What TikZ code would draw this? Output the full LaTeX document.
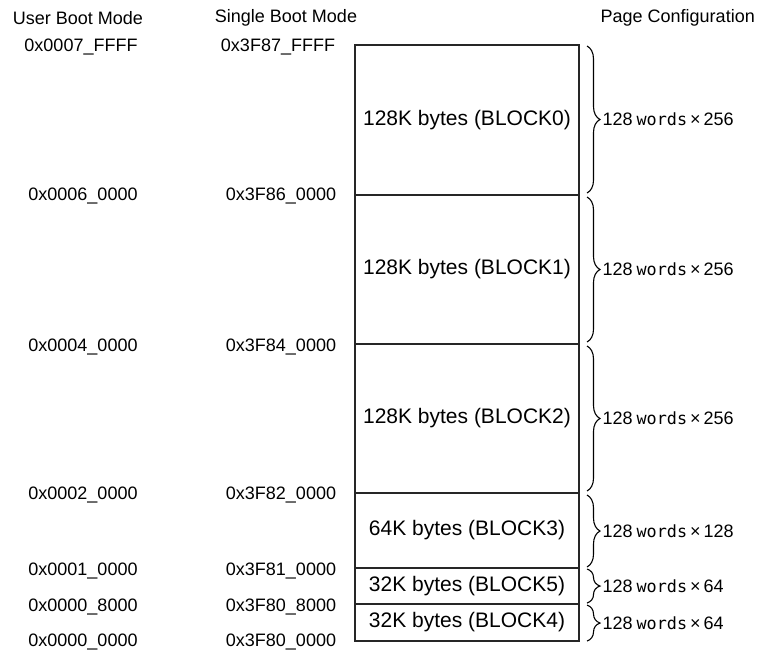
\documentclass[tikz,border=0pt]{standalone}
\usepackage{fontspec}
\setmainfont{Liberation Sans}
\newfontfamily\wordsfont{DejaVu Sans Mono}
\usetikzlibrary{positioning,decorations.pathreplacing}

\tikzset{
  blk/.style={draw=black!85, line width=1.2pt, minimum width=224pt, inner sep=0pt, outer sep=0pt, font=\fontsize{21}{24}\selectfont},
  addr/.style={inner sep=0pt, font=\fontsize{18}{21}\selectfont},
  brc/.style={decorate, decoration={brace, amplitude=13pt}, line width=1.1pt},
  pgcfg/.style={midway, right=15pt, inner sep=0pt, font=\fontsize{18}{21}\selectfont},
}
\newcommand{\pagewords}[1]{128\hspace{4pt}{\wordsfont\fontsize{16.8}{19}\selectfont words}\hspace{3pt}×\hspace{3pt}#1}

\begin{document}
\begin{tikzpicture}[x=1pt, y=-1pt]
  \useasboundingbox (0,0) rectangle (759,649);
  % column heads
  \node[addr] (usrhd) at (78,18) {User Boot Mode};
  \node[addr] (sglhd) at (286,18) {Single Boot Mode};
  \node[addr,anchor=east] (pghd) at (755,18) {Page Configuration};

  % flash blocks, top to bottom
  \node[blk,minimum height=150pt] (blk0) at (467,120) {128K bytes (BLOCK0)};
  \node[blk,minimum height=149pt,below=0pt of blk0] (blk1) {128K bytes (BLOCK1)};
  \node[blk,minimum height=149pt,below=0pt of blk1] (blk2) {128K bytes (BLOCK2)};
  \node[blk,minimum height=75pt,below=0pt of blk2] (blk3) {64K bytes (BLOCK3)};
  \node[blk,minimum height=36pt,below=0pt of blk3] (blk5) {32K bytes (BLOCK5)};
  \node[blk,minimum height=37pt,below=0pt of blk5] (blk4) {32K bytes (BLOCK4)};

  % addresses
  \node[addr] (u0) at (81,47) {0x0007\_FFFF};
  \node[addr] (u1) at (83,196) {0x0006\_0000};
  \node[addr] (u2) at (83,347) {0x0004\_0000};
  \node[addr] (u3) at (83,495) {0x0002\_0000};
  \node[addr] (u4) at (83,571) {0x0001\_0000};
  \node[addr] (u5) at (83,607) {0x0000\_8000};
  \node[addr] (u6) at (83,642) {0x0000\_0000};
  \node[addr] (s0) at (278,47) {0x3F87\_FFFF};
  \node[addr] (s1) at (281,196) {0x3F86\_0000};
  \node[addr] (s2) at (281,347) {0x3F84\_0000};
  \node[addr] (s3) at (281,495) {0x3F82\_0000};
  \node[addr] (s4) at (281,571) {0x3F81\_0000};
  \node[addr] (s5) at (281,607) {0x3F80\_8000};
  \node[addr] (s6) at (281,642) {0x3F80\_0000};

  % page configuration braces
  \draw[brc] ([xshift=8pt,yshift=-1pt]blk0.north east) -- ([xshift=8pt,yshift=2pt]blk0.south east) node[pgcfg] {\pagewords{256}};
  \draw[brc] ([xshift=8pt,yshift=-2pt]blk1.north east) -- ([xshift=8pt,yshift=2pt]blk1.south east) node[pgcfg] {\pagewords{256}};
  \draw[brc] ([xshift=8pt,yshift=-2pt]blk2.north east) -- ([xshift=8pt,yshift=2pt]blk2.south east) node[pgcfg] {\pagewords{256}};
  \draw[brc] ([xshift=8pt,yshift=-2pt]blk3.north east) -- ([xshift=8pt,yshift=1pt]blk3.south east) node[pgcfg] {\pagewords{128}};
  \draw[brc] ([xshift=8pt,yshift=-1pt]blk5.north east) -- ([xshift=8pt,yshift=1pt]blk5.south east) node[pgcfg] {\pagewords{64}};
  \draw[brc] ([xshift=8pt,yshift=-1pt]blk4.north east) -- ([xshift=8pt]blk4.south east) node[pgcfg] {\pagewords{64}};
\end{tikzpicture}
\end{document}
